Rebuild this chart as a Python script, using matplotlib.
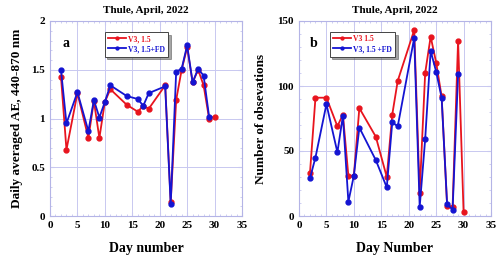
import matplotlib
matplotlib.use("Agg")
import matplotlib.pyplot as plt
from matplotlib.ticker import MultipleLocator

# Panel a: daily averaged AE
days_a_red = [2, 3, 5, 7, 8, 9, 10, 11, 14, 16, 17, 18, 21, 22, 23, 24, 25, 26, 27, 28, 29, 30]
ae_red = [1.43, 0.68, 1.26, 0.80, 1.18, 0.80, 1.17, 1.30, 1.14, 1.07, 1.13, 1.10, 1.34,
          0.14, 1.19, 1.50, 1.73, 1.37, 1.50, 1.34, 1.00, 1.02]
days_a_blue = [2, 3, 5, 7, 8, 9, 10, 11, 14, 16, 17, 18, 21, 22, 23, 24, 25, 26, 27, 28, 29]
ae_blue = [1.50, 0.95, 1.27, 0.87, 1.19, 1.01, 1.17, 1.34, 1.23, 1.20, 1.13, 1.26, 1.33,
           0.12, 1.48, 1.51, 1.75, 1.37, 1.51, 1.44, 1.02]

# Panel b: number of observations
days_b_red = [2, 3, 5, 7, 8, 9, 10, 11, 14, 16, 17, 18, 21, 22, 23, 24, 25, 26, 27, 28, 29, 30]
obs_red = [33, 91, 91, 69, 78, 31, 31, 83, 61, 30, 78, 104, 143, 18, 110, 138, 118, 92, 8, 7, 135, 3]
days_b_blue = [2, 3, 5, 7, 8, 9, 10, 11, 14, 16, 17, 18, 21, 22, 23, 24, 25, 26, 27, 28, 29]
obs_blue = [29, 45, 86, 49, 77, 11, 31, 68, 43, 22, 72, 69, 137, 7, 59, 127, 111, 91, 9, 5, 109]

RED = "#e8141e"
BLUE = "#1414d2"
GRID = "#c8c8f0"
plt.rcParams["font.family"] = "Liberation Serif"
plt.rcParams["font.weight"] = "bold"

fig = plt.figure(figsize=(5.0, 2.56), dpi=100)
ax1 = fig.add_axes([50 / 500, 1 - 216 / 256, 192 / 500, 195 / 256])
ax2 = fig.add_axes([299 / 500, 1 - 216 / 256, 192 / 500, 195 / 256])


def style(ax, ymax, ymaj, ymin):
    ax.set_xlim(0, 35)
    ax.set_ylim(0, ymax)
    ax.xaxis.set_major_locator(MultipleLocator(5))
    ax.xaxis.set_minor_locator(MultipleLocator(1))
    ax.yaxis.set_major_locator(MultipleLocator(ymaj))
    ax.yaxis.set_minor_locator(MultipleLocator(ymin))
    ax.grid(True, which="major", color=GRID, lw=0.7)
    ax.tick_params(which="both", direction="in", top=True, right=True,
                   colors=GRID, labelcolor="black", labelsize=8)
    ax.tick_params(which="major", length=3)
    ax.tick_params(which="minor", length=1.5)
    for s in ax.spines.values():
        s.set_color("#b4b4e6")
        s.set_linewidth(0.8)
    ax.set_axisbelow(True)


def legend(ax, x0):
    leg = ax.legend(loc="upper left", bbox_to_anchor=(x0, 0.945), frameon=True,
                    fancybox=False, shadow=True, borderpad=0.45, handlelength=2.3,
                    handletextpad=0.3, labelspacing=0.25, markerscale=0.6,
                    borderaxespad=0, prop={"weight": "bold", "size": 5.5})
    leg.get_frame().set_edgecolor("#444444")
    leg.get_frame().set_linewidth(0.7)
    for t, c in zip(leg.get_texts(), [RED, BLUE]):
        t.set_color(c)


style(ax1, 2, 0.5, 0.1)
ax1.plot(days_a_red, ae_red, "-o", color=RED, lw=1.3, ms=3.5, label="V3, 1.5")
ax1.plot(days_a_blue, ae_blue, "-o", color=BLUE, lw=1.3, ms=3.5, label="V3, 1.5+FD")
ax1.set_yticks([0, 0.5, 1, 1.5, 2])
ax1.set_yticklabels(["0", "0.5", "1", "1.5", "2"])
ax1.set_xlabel("Day number", fontsize=10, fontweight="bold", labelpad=9)
ax1.set_ylabel("Daily averaged AE, 440-870 nm", fontsize=9.5, fontweight="bold", labelpad=6)
ax1.set_title("Thule, April, 2022", fontsize=8, fontweight="bold", pad=6)
ax1.text(0.065, 0.92, "a", transform=ax1.transAxes, fontsize=10, fontweight="bold",
         va="top")
legend(ax1, 0.285)

style(ax2, 150, 50, 10)
ax2.plot(days_b_red, obs_red, "-o", color=RED, lw=1.3, ms=3.5, label="V3 1.5")
ax2.plot(days_b_blue, obs_blue, "-o", color=BLUE, lw=1.3, ms=3.5, label="V3, 1.5 +FD")
ax2.set_xlabel("Day Number", fontsize=10, fontweight="bold", labelpad=9)
ax2.set_ylabel("Number of obsevations", fontsize=9.5, fontweight="bold", labelpad=8)
ax2.set_title("Thule, April, 2022", fontsize=8, fontweight="bold", pad=6)
ax2.text(0.055, 0.92, "b", transform=ax2.transAxes, fontsize=10, fontweight="bold",
         va="top")
legend(ax2, 0.16)

fig.savefig("out.png", dpi=100)
